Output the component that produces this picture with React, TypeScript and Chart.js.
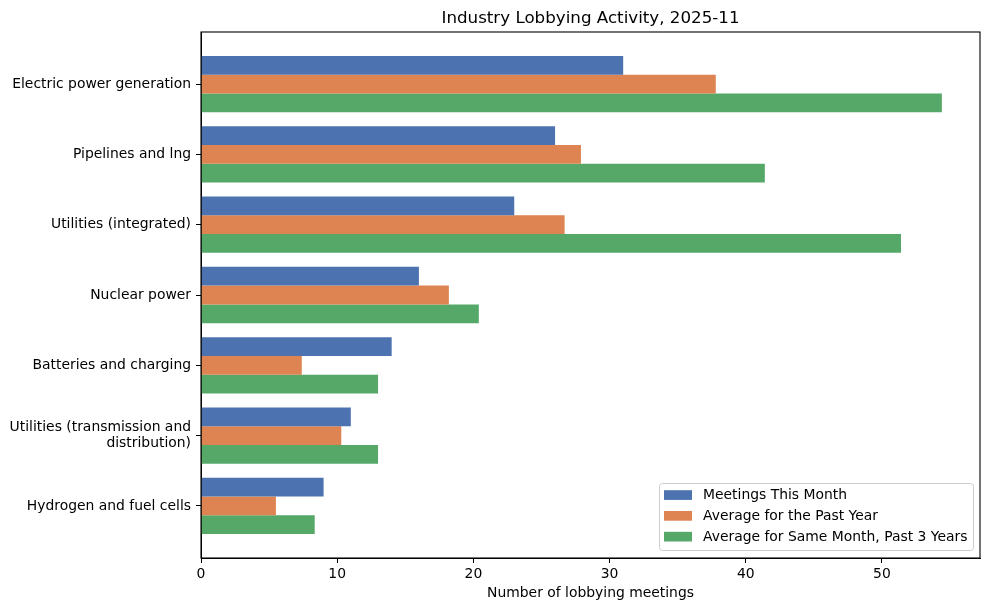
import { useEffect, useRef } from "react";
import { Chart, registerables, Plugin } from "chart.js";

Chart.register(...registerables);

const categories: (string | string[])[] = [
  "Electric power generation",
  "Pipelines and lng",
  "Utilities (integrated)",
  "Nuclear power",
  "Batteries and charging",
  ["Utilities (transmission and", "distribution)"],
  "Hydrogen and fuel cells",
];

const meetingsThisMonth = [31, 26, 23, 16, 14, 11, 9];
const avgPastYear = [37.8, 27.9, 26.7, 18.2, 7.4, 10.3, 5.5];
const avgSameMonth3Yrs = [54.4, 41.4, 51.4, 20.4, 13, 13, 8.35];

const seriesNames = [
  "Meetings This Month",
  "Average for the Past Year",
  "Average for Same Month, Past 3 Years",
];
const seriesColors = ["#4c72b0", "#dd8452", "#55a868"];

const xTicks = [0, 10, 20, 30, 40, 50];

const FONT = "'DejaVu Sans', sans-serif";

// matplotlib-like frame, centered title and in-axes legend
const mplPlugin: Plugin = {
  id: "mplDecor",
  afterDraw(chart) {
    const { ctx, chartArea: a } = chart;
    ctx.save();
    ctx.strokeStyle = "#000";
    ctx.lineWidth = 1.1;
    ctx.strokeRect(a.left, a.top, a.right - a.left, a.bottom - a.top);

    ctx.fillStyle = "#000";
    ctx.font = `16.7px ${FONT}`;
    ctx.textAlign = "center";
    ctx.textBaseline = "alphabetic";
    ctx.fillText("Industry Lobbying Activity, 2025-11", (a.left + a.right) / 2, 23);

    // legend
    const bx = 659.5, by = 483.5, bw = 314, bh = 67;
    ctx.beginPath();
    ctx.roundRect(bx, by, bw, bh, 3);
    ctx.fillStyle = "rgba(255,255,255,0.8)";
    ctx.fill();
    ctx.strokeStyle = "#cccccc";
    ctx.lineWidth = 1;
    ctx.stroke();
    ctx.font = `13.9px ${FONT}`;
    ctx.textAlign = "left";
    ctx.textBaseline = "middle";
    chart.data.datasets.forEach((ds, i) => {
      const cy = 495 + i * 20.8;
      ctx.fillStyle = ds.backgroundColor as string;
      ctx.fillRect(664, cy - 4.8, 28, 9.7);
      ctx.fillStyle = "#000";
      ctx.fillText(ds.label as string, 703, cy + 0.5);
    });
    ctx.restore();
  },
};

export default function App() {
  const canvasRef = useRef<HTMLCanvasElement | null>(null);

  useEffect(() => {
    document.body.style.margin = "0";
    if (!canvasRef.current) return;
    const series = [meetingsThisMonth, avgPastYear, avgSameMonth3Yrs];
    const chart = new Chart(canvasRef.current, {
      type: "bar",
      data: {
        datasets: series.map((vals, s) => ({
          label: seriesNames[s],
          data: vals.map((v, i) => ({ x: v, y: i })),
          backgroundColor: seriesColors[s],
          borderWidth: 0,
          categoryPercentage: 0.8,
          barPercentage: 1.0,
        })),
      },
      options: {
        indexAxis: "y",
        animation: false,
        responsive: false,
        maintainAspectRatio: false,
        layout: { padding: { left: 0, top: 32, right: 9, bottom: 8 } },
        plugins: {
          legend: { display: false },
          title: { display: false },
          tooltip: { enabled: false },
        },
        scales: {
          y: {
            type: "linear",
            reverse: true,
            offset: false,
            min: -0.74,
            max: 6.74,
            afterFit: (scale: any) => {
              scale.width = 201;
            },
            afterBuildTicks: (scale: any) => {
              scale.ticks = categories.map((_, i) => ({ value: i }));
            },
            ticks: {
              includeBounds: false,
              stepSize: 1,
              padding: 5,
              color: "#000",
              font: { family: FONT, size: 13.9, lineHeight: 1.15 },
              callback: (v: any) => categories[Number(v)] ?? "",
            },
            grid: {
              offset: false,
              drawOnChartArea: false,
              tickLength: 5,
              color: "#000",
              tickWidth: 1,
            },
            border: { display: true, color: "#000", width: 1 },
          },
          x: {
            type: "linear",
            min: 0,
            max: 57.2,
            afterFit: (scale: any) => {
              scale.height = 44;
            },
            afterBuildTicks: (scale: any) => {
              scale.ticks = xTicks.map((v) => ({ value: v }));
            },
            ticks: {
              includeBounds: false,
              padding: 3,
              color: "#000",
              font: { family: FONT, size: 13.9 },
            },
            grid: {
              drawOnChartArea: false,
              tickLength: 5,
              color: "#000",
              tickWidth: 1,
            },
            border: { display: true, color: "#000", width: 1 },
            title: {
              display: true,
              text: "Number of lobbying meetings",
              color: "#000",
              font: { family: FONT, size: 13.9 },
              padding: { top: 2, bottom: 0 },
            },
          },
        },
      },
      plugins: [mplPlugin],
    });
    return () => chart.destroy();
  }, []);

  return (
    <div style={{ width: 989, height: 610, background: "#fff" }}>
      <canvas ref={canvasRef} width={989} height={610} />
    </div>
  );
}
